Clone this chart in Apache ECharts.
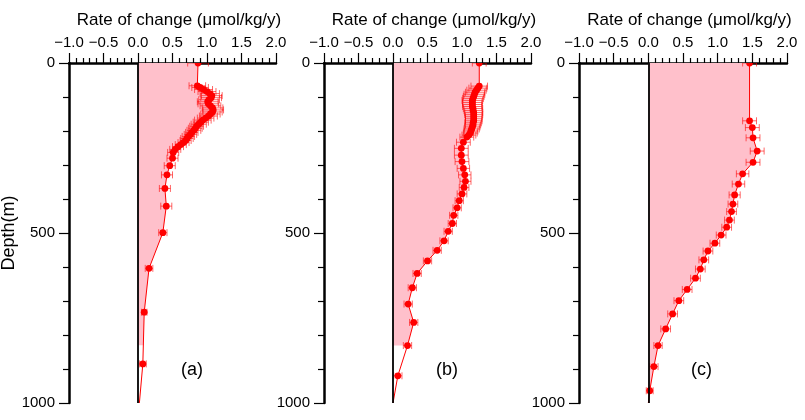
<!DOCTYPE html>
<html><head><meta charset="utf-8">
<script src="https://cdn.jsdelivr.net/npm/echarts@6/dist/echarts.min.js"></script>
<style>html,body{margin:0;padding:0;background:#fff}#c{width:805px;height:420px}</style>
</head><body><div id="c"></div>
<script>
// ---------- data ----------
const xTicks = [-1.0, -0.5, 0.0, 0.5, 1.0, 1.5, 2.0];
const yTicks = [0, 500, 1000];
const panelLabels = ['(a)', '(b)', '(c)'];

// panel (a)
const depthA = [0, 67, 72, 78, 84, 90, 96, 102, 108, 114, 120, 126, 132, 138, 144, 150, 156, 162, 168, 174, 180, 186, 192, 198, 204, 210, 216, 222, 228, 234, 240, 246, 254, 263, 280, 302, 329, 369, 421, 499, 604, 733, 885];
const rateA  = [0.87, 0.86, 0.90, 0.95, 1.00, 1.04, 1.07, 1.06, 1.03, 1.01, 1.02, 1.05, 1.08, 1.09, 1.08, 1.05, 1.02, 0.98, 0.94, 0.91, 0.88, 0.85, 0.83, 0.81, 0.78, 0.76, 0.73, 0.71, 0.69, 0.66, 0.62, 0.58, 0.54, 0.51, 0.50, 0.46, 0.42, 0.39, 0.41, 0.36, 0.16, 0.09, 0.07];
const errA   = [0.15, 0.12, 0.12, 0.13, 0.13, 0.14, 0.15, 0.15, 0.15, 0.15, 0.15, 0.15, 0.15, 0.15, 0.14, 0.14, 0.13, 0.12, 0.12, 0.11, 0.11, 0.10, 0.10, 0.10, 0.09, 0.09, 0.09, 0.09, 0.08, 0.08, 0.08, 0.08, 0.08, 0.08, 0.08, 0.08, 0.08, 0.08, 0.08, 0.06, 0.055, 0.04, 0.05];
const lineEndA = [0.02, 1000];
const fillEndA = [0.08, 830];

// panel (b)
const depthB = [0, 68, 74, 80, 86, 92, 98, 104, 110, 116, 122, 128, 134, 140, 146, 152, 158, 164, 170, 176, 182, 188, 194, 200, 206, 212, 218, 233, 251, 271, 290, 310, 329, 348, 366, 385, 405, 426, 448, 472, 495, 523, 551, 582, 619, 661, 709, 763, 831, 920];
const rateB  = [1.25, 1.25, 1.23, 1.21, 1.19, 1.18, 1.17, 1.16, 1.15, 1.15, 1.15, 1.15, 1.16, 1.16, 1.17, 1.17, 1.17, 1.17, 1.17, 1.16, 1.16, 1.15, 1.14, 1.13, 1.12, 1.10, 1.07, 1.02, 0.99, 0.99, 1.00, 1.02, 1.04, 1.05, 1.03, 1.00, 0.96, 0.93, 0.88, 0.86, 0.80, 0.74, 0.64, 0.50, 0.35, 0.28, 0.22, 0.30, 0.21, 0.07];
const errB   = [0.10, 0.12, 0.13, 0.14, 0.14, 0.15, 0.15, 0.15, 0.15, 0.14, 0.14, 0.14, 0.14, 0.13, 0.13, 0.13, 0.12, 0.12, 0.12, 0.12, 0.11, 0.11, 0.11, 0.10, 0.10, 0.10, 0.10, 0.10, 0.10, 0.10, 0.10, 0.09, 0.09, 0.08, 0.07, 0.07, 0.06, 0.06, 0.06, 0.06, 0.06, 0.06, 0.06, 0.06, 0.06, 0.06, 0.06, 0.06, 0.06, 0.06];
const lineEndB = [0.0, 1000];
const fillEndB = [0.21, 831];

// panel (c)
const depthC = [0, 170, 190, 220, 259, 292, 326, 356, 388, 415, 437, 462, 483, 506, 530, 553, 579, 606, 633, 666, 699, 738, 782, 831, 893, 964];
const rateC  = [1.46, 1.46, 1.50, 1.51, 1.57, 1.51, 1.36, 1.30, 1.245, 1.22, 1.20, 1.17, 1.13, 1.05, 0.96, 0.86, 0.80, 0.75, 0.68, 0.56, 0.44, 0.35, 0.25, 0.14, 0.08, 0.02];
const errC   = [0.10, 0.10, 0.10, 0.10, 0.10, 0.10, 0.09, 0.09, 0.08, 0.07, 0.07, 0.07, 0.07, 0.07, 0.07, 0.07, 0.07, 0.07, 0.07, 0.07, 0.07, 0.07, 0.07, 0.06, 0.06, 0.05];
const lineEndC = [0.0, 1000];
const fillEndC = [0.02, 964];

// ---------- chart ----------
const FONT = '"Liberation Sans", Arial, Helvetica, sans-serif';
const fmtX = v => (v < 0 ? '\u2212' + Math.abs(v).toFixed(1) : v.toFixed(1));
const gridsPos = [{left: 69, width: 207}, {left: 324, width: 207}, {left: 579, width: 208}];
const panels = [
  {depth: depthA, rate: rateA, err: errA, lineEnd: lineEndA, fillEnd: fillEndA},
  {depth: depthB, rate: rateB, err: errB, lineEnd: lineEndB, fillEnd: fillEndB},
  {depth: depthC, rate: rateC, err: errC, lineEnd: lineEndC, fillEnd: fillEndC}
];

const grid = [], xAxis = [], yAxis = [], series = [], title = [];
panels.forEach((p, k) => {
  grid.push({left: gridsPos[k].left, width: gridsPos[k].width, top: 63, height: 340,
    containLabel: false, outerBoundsMode: 'none'});
  xAxis.push({
    type: 'value', gridIndex: k, position: 'top',
    min: xTicks[0], max: xTicks[xTicks.length - 1], interval: 0.5,
    name: 'Rate of change (\u03bcmol/kg/y)', nameLocation: 'middle', nameGap: 34,
    nameTextStyle: {fontFamily: FONT, fontSize: 17, color: '#000', padding: [0, 0, 0, 13]},
    axisLine: {show: true, onZero: false, lineStyle: {color: '#000', width: 2.5}},
    axisTick: {show: true, length: 10, lineStyle: {color: '#000', width: 1.2}},
    minorTick: {show: true, splitNumber: 5, length: 5, lineStyle: {color: '#000', width: 1.2}},
    axisLabel: {show: true, margin: 13, fontFamily: FONT, fontSize: 15, color: '#000', formatter: fmtX},
    splitLine: {show: false}, minorSplitLine: {show: false}
  });
  yAxis.push({
    type: 'value', gridIndex: k, inverse: true,
    min: yTicks[0], max: yTicks[yTicks.length - 1], interval: 500,
    name: k === 0 ? 'Depth(m)' : '', nameLocation: 'middle', nameGap: 42,
    nameTextStyle: {fontFamily: FONT, fontSize: 18, color: '#000'},
    axisLine: {show: true, onZero: false, lineStyle: {color: '#000', width: 2.5}},
    axisTick: {show: true, length: 10, lineStyle: {color: '#000', width: 1.2}},
    minorTick: {show: true, splitNumber: 5, length: 6, lineStyle: {color: '#000', width: 1.2}},
    axisLabel: {show: true, margin: 14, fontFamily: FONT, fontSize: 15, color: '#000', formatter: v => String(v)},
    splitLine: {show: false}, minorSplitLine: {show: false}
  });

  // fill polygon
  const poly = [[0, 0]];
  p.depth.forEach((d, i) => { if (d <= p.fillEnd[1]) poly.push([p.rate[i], d]); });
  const last = poly[poly.length - 1];
  if (last[1] !== p.fillEnd[1]) poly.push(p.fillEnd);
  poly.push([0, p.fillEnd[1]]);
  series.push({
    type: 'custom', xAxisIndex: k, yAxisIndex: k, z: 1, silent: true, clip: true,
    data: [[0, 0]],
    renderItem: (params, api) => ({
      type: 'polygon',
      shape: {points: poly.map(q => api.coord(q))},
      style: {fill: '#ffc0cb', stroke: null}
    })
  });
  // zero line
  series.push({
    type: 'line', xAxisIndex: k, yAxisIndex: k, z: 2, data: [], silent: true,
    markLine: {silent: true, symbol: ['none', 'none'], label: {show: false},
      lineStyle: {color: '#000', width: 1.8, type: 'solid'}, data: [{xAxis: 0}]}
  });
  // profile line
  series.push({
    type: 'line', xAxisIndex: k, yAxisIndex: k, z: 3, silent: true, clip: true,
    symbol: 'none', lineStyle: {color: '#ff0000', width: 1},
    data: p.depth.map((d, i) => [p.rate[i], d]).concat([p.lineEnd])
  });
  // error bars + dots
  series.push({
    type: 'custom', xAxisIndex: k, yAxisIndex: k, z: 4, silent: true, clip: true,
    data: p.depth.map((d, i) => [p.rate[i], d, p.err[i]]),
    renderItem: (params, api) => {
      const v = api.value(0), d = api.value(1), e = api.value(2);
      const c = api.coord([v, d]), l = api.coord([v - e, d]), r = api.coord([v + e, d]);
      const es = {stroke: 'rgba(255,0,0,0.6)', lineWidth: 1};
      return {type: 'group', children: [
        {type: 'line', shape: {x1: l[0], y1: c[1], x2: r[0], y2: c[1]}, style: es},
        {type: 'line', shape: {x1: l[0], y1: c[1] - 3.5, x2: l[0], y2: c[1] + 3.5}, style: es},
        {type: 'line', shape: {x1: r[0], y1: c[1] - 3.5, x2: r[0], y2: c[1] + 3.5}, style: es},
        {type: 'circle', shape: {cx: c[0], cy: c[1], r: 3.4}, style: {fill: '#ff0000'}}
      ]};
    }
  });
  title.push({text: panelLabels[k], left: [181, 436, 691][k], top: 361,
    textStyle: {fontFamily: FONT, fontSize: 18, fontWeight: 'normal', color: '#000'}, padding: 0});
});

const chart = echarts.init(document.getElementById('c'), null, {renderer: 'canvas'});
chart.setOption({animation: false, backgroundColor: '#fff', title, grid, xAxis, yAxis, series});
</script>
</body></html>
